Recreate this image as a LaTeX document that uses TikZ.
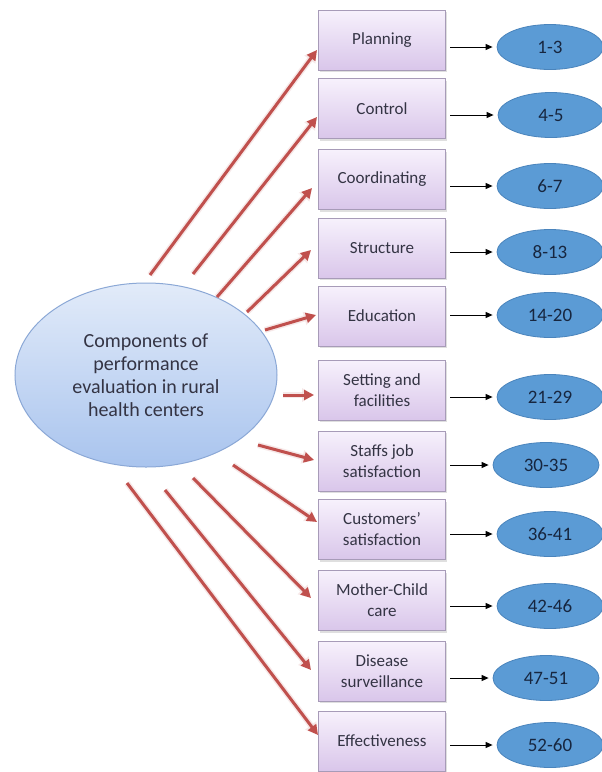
\documentclass[tikz,border=0pt]{standalone}
\usepackage{fontspec}
\setmainfont{Carlito}
\usetikzlibrary{shapes.geometric,arrows.meta,calc,shadows}
\definecolor{boxtop}{HTML}{F7F1FC}
\definecolor{boxbot}{HTML}{D9C6EA}
\definecolor{boxline}{HTML}{A79BB8}
\definecolor{boxtext}{HTML}{343444}
\definecolor{centop}{HTML}{E2EBF9}
\definecolor{cenbot}{HTML}{A9C4EE}
\definecolor{cenline}{HTML}{8BA8D6}
\definecolor{ovfill}{HTML}{5B9BD5}
\definecolor{ovline}{HTML}{4A84BC}
\definecolor{ovtext}{HTML}{17263F}
\definecolor{redarr}{HTML}{C0504D}
\tikzset{
  compbox/.style={rectangle, draw=boxline, line width=1pt, top color=boxtop, bottom color=boxbot,
    minimum width=127pt, minimum height=60pt, inner sep=2pt, align=center, text=boxtext,
    font=\fontsize{17}{21}\selectfont,
    drop shadow={opacity=0.25, shadow xshift=1.5pt, shadow yshift=-2pt}},
  itemoval/.style={ellipse, draw=ovline, line width=0.8pt, fill=ovfill, minimum width=106pt,
    minimum height=45pt, inner sep=0pt, text=ovtext, font=\fontsize{19}{22}\selectfont},
  centre/.style={ellipse, draw=cenline, line width=1pt, top color=centop, bottom color=cenbot,
    minimum width=262pt, minimum height=184pt, inner sep=0pt, align=center, text=boxtext,
    font=\fontsize{20}{23}\selectfont},
  redarrow/.style={draw=redarr, line width=3pt, -{Triangle[length=10pt,width=10pt]},
    preaction={draw=redarr!25, line width=6pt, -{Triangle[length=12pt,width=13pt]}, opacity=0.5}},
  blkarrow/.style={draw=black, line width=1pt, -{Triangle[length=7pt,width=6pt]}}
}
\begin{document}
\begin{tikzpicture}[x=1pt,y=-1pt]
\useasboundingbox (0,0) rectangle (602,772);
\fill[white] (0,0) rectangle (602,772);

\node[centre] (c) at (146,375) {Components of\\performance\\evaluation in rural\\health centers};

\node[compbox] (b1) at (382,40) {Planning};
\node[compbox] (b2) at (382,108.5) {Control};
\node[compbox] (b3) at (382,179.5) {Coordinating};
\node[compbox] (b4) at (382,248) {Structure};
\node[compbox] (b5) at (382,316) {Education};
\node[compbox] (b6) at (382,390) {Setting and\\facilities};
\node[compbox] (b7) at (382,461) {Staffs job\\satisfaction};
\node[compbox] (b8) at (382,529.5) {Customers'\\satisfaction};
\node[compbox] (b9) at (382,600.5) {Mother-Child\\care};
\node[compbox] (b10) at (382,671) {Disease\\surveillance};
\node[compbox] (b11) at (382,741) {Effectiveness};

\node[itemoval] (e1) at (550,47) {1-3};
\node[itemoval] (e2) at (551,115) {4-5};
\node[itemoval] (e3) at (550,186) {6-7};
\node[itemoval] (e4) at (550,252) {8-13};
\node[itemoval] (e5) at (550,315) {14-20};
\node[itemoval] (e6) at (550,397) {21-29};
\node[itemoval] (e7) at (546,465) {30-35};
\node[itemoval] (e8) at (550,534) {36-41};
\node[itemoval] (e9) at (550,606) {42-46};
\node[itemoval] (e10) at (546,678) {47-51};
\node[itemoval] (e11) at (550,745) {52-60};

\coordinate (s1) at (150,275);
\coordinate (s2) at (193,274);
\coordinate (s3) at (217,297);
\coordinate (s4) at (247,312);
\coordinate (s5) at (265,330);
\coordinate (s6) at (283,395);
\coordinate (s7) at (258,445);
\coordinate (s8) at (233,465);
\coordinate (s9) at (193,478);
\coordinate (s10) at (165,490);
\coordinate (s11) at (127,483);

\draw[redarrow] (s1) -- ($(b1.west)+(-1,10)$);
\draw[redarrow] (s2) -- ($(b2.west)+(-1,8.5)$);
\draw[redarrow] (s3) -- ($(b3.west)+(-6,8.5)$);
\draw[redarrow] (s4) -- ($(b4.west)+(-7,2)$);
\draw[redarrow] (s5) -- ($(b5.west)+(-2,-1)$);
\draw[redarrow] (s6) -- ($(b6.west)+(-4,5)$);
\draw[redarrow] (s7) -- ($(b7.west)+(-4,-1)$);
\draw[redarrow] (s8) -- ($(b8.west)+(-1,-7.5)$);
\draw[redarrow] (s9) -- ($(b9.west)+(-7,-2.5)$);
\draw[redarrow] (s10) -- ($(b10.west)+(-7,-1)$);
\draw[redarrow] (s11) -- ($(b11.west)+(0,-6)$);

\foreach \i in {1,...,11}{
  \draw[blkarrow] ([xshift=4pt]b\i.east |- e\i.west) -- ([xshift=-4pt]e\i.west);
}
\end{tikzpicture}
\end{document}
